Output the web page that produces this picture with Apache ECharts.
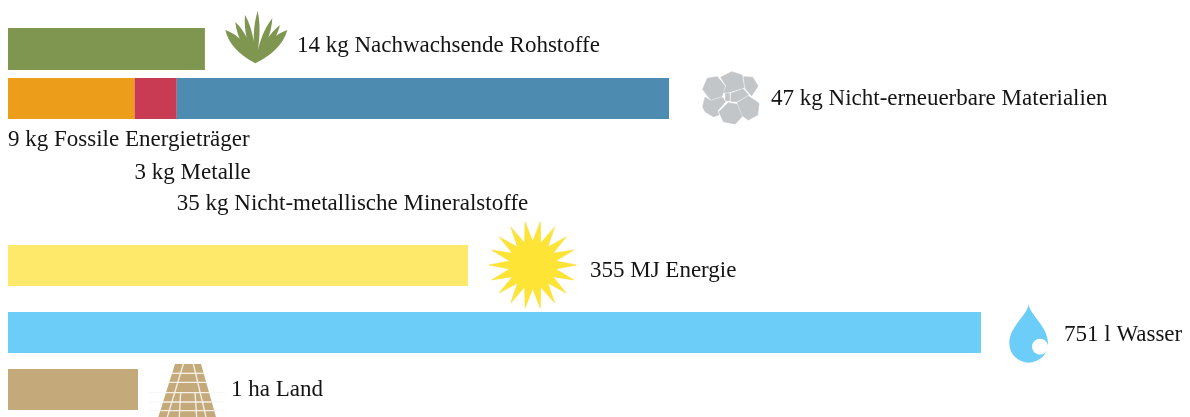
<!DOCTYPE html>
<html><head><meta charset="utf-8">
<style>html,body{margin:0;padding:0;background:#fff}#c{width:1190px;height:417px}</style>
<script src="https://cdn.jsdelivr.net/npm/echarts@6/dist/echarts.min.js"></script>
</head><body><div id="c"></div>
<script>
// Data
const renewableKg = 14;
const renewableLabel = '14 kg Nachwachsende Rohstoffe';
const materialNames = ['9 kg Fossile Energieträger', '3 kg Metalle', '35 kg Nicht-metallische Mineralstoffe'];
const materialKg = [9, 3, 35];
const materialTotalLabel = '47 kg Nicht-erneuerbare Materialien';
const energyMJ = 355;
const energyLabel = '355 MJ Energie';
const waterL = 751;
const waterLabel = '751 l Wasser';
const landHa = 1;
const landLabel = '1 ha Land';

// Style
const FONT = '"Liberation Serif", serif';
const FS = 23;
const TXT = '#141414';
const W = 1182;
const maxKg = W / 14.065, maxMJ = W / 1.2956, maxHa = W / 130;

const rows = [
  {top: 28,  h: 42, max: maxKg},
  {top: 78,  h: 41, max: maxKg},
  {top: 245, h: 41, max: maxMJ},
  {top: 312, h: 41, max: maxMJ},
  {top: 369, h: 41, max: maxHa}
];
const grid = rows.map(r => ({left: 8, width: W, top: r.top, height: r.h, containLabel: false}));
const xAxis = rows.map((r, i) => ({type: 'value', gridIndex: i, min: 0, max: r.max, show: false}));
const yAxis = rows.map((r, i) => ({type: 'category', gridIndex: i, data: ['x'], show: false}));

const bar = (i, val, color, extra) => Object.assign({
  type: 'bar', xAxisIndex: i, yAxisIndex: i, data: [val], barWidth: '100%',
  itemStyle: {color}, silent: true, animation: false
}, extra || {});
const endLabel = (text, dx, dy) => ({
  show: true, position: 'right', distance: 0, offset: [dx, dy], formatter: text,
  fontFamily: FONT, fontSize: FS, color: TXT
});
const subLabel = (text, y) => ({
  show: true, position: [0, y], distance: 0, formatter: text,
  fontFamily: FONT, fontSize: FS, color: TXT
});

const series = [
  bar(0, renewableKg, '#7f9650', {label: endLabel(renewableLabel, 92, -3)}),
  bar(1, materialKg[0], '#ec9e1b', {stack: 'm', label: subLabel(materialNames[0], 50)}),
  bar(1, materialKg[1], '#c83b52', {stack: 'm', label: subLabel(materialNames[1], 83)}),
  bar(1, materialKg[2], '#4d8bb0', {stack: 'm', label: subLabel(materialNames[2], 114)}),
  bar(1, 0, 'transparent', {stack: 'm', label: endLabel(materialTotalLabel, 102, 0)}),
  bar(2, energyMJ, '#fee96a', {label: endLabel(energyLabel, 122, 5)}),
  bar(3, waterL, '#6bcdf8', {label: endLabel(waterLabel, 83, 2)}),
  bar(4, landHa, '#c4a97b', {label: endLabel(landLabel, 93, 0)})
];

// Icons (decorative)
const leafBase = [166, 190];
const leaves = [[76,90,30],[106,66,21],[135,45,19],[173,33,17],[217,55,19],[240,75,19],[262,90,30]];
const agave = leaves.map(([tx, ty, w]) => {
  const [bx, by] = leafBase, dx = tx - bx, dy = ty - by, len = Math.hypot(dx, dy);
  const nx = -dy / len * w, ny = dx / len * w;
  const mx = bx + dx * 0.6, my = by + dy * 0.6;
  return `M${bx} ${by}Q${mx + nx} ${my + ny} ${tx} ${ty}Q${mx - nx} ${my - ny} ${bx} ${by}Z`;
}).join('');
const stones = [
  [[68,88],[82,55],[112,50],[135,78],[126,109],[92,119]],
  [[122,52],[155,35],[186,45],[192,83],[150,96],[131,98],[139,78]],
  [[191,50],[218,52],[234,78],[215,107],[196,86]],
  [[172,128],[205,108],[237,130],[233,165],[205,180],[188,168]],
  [[117,155],[145,128],[171,133],[186,170],[165,192],[130,185]],
  [[75,112],[92,122],[127,112],[136,125],[113,152],[116,165],[100,170],[75,155],[68,140]],
  [[136,101],[148,100],[150,122],[137,122]],
  [[153,100],[190,87],[205,105],[170,125],[153,124]]
];
const sunPts = [];
for (let k = 0; k < 36; k++) {
  const a = k * Math.PI / 18, r = k % 2 ? 23.5 : 43.7;
  sunPts.push([532.7 + r * Math.cos(a), 265 + r * Math.sin(a)]);
}
const drop = 'M116 28C120 60 174 95 174 145C174 178 148 203 116 203C84 203 58 178 58 145C58 95 112 60 116 28Z';
const fieldLines = [
  [[160,27],[112,186]], [[190,27],[228,186]],
  [[152,112],[148,186]], [[195,112],[200,186]]
];
const fieldRows = [55, 82, 113, 141, 167];
const edgeL = y => 135 - (y - 27) * 50 / 159, edgeR = y => 213 + (y - 27) * 45 / 159;

echarts.graphic.registerShape('agaveIcon', echarts.graphic.extendPath(agave, {}));
echarts.graphic.registerShape('dropIcon', echarts.graphic.extendPath(drop, {}));

const graphic = [
  {type: 'group', x: 200, y: 0, scaleX: 1/3, scaleY: 1/3, children: [
    {type: 'agaveIcon', style: {fill: '#7f9650'}}
  ]},
  {type: 'group', x: 680, y: 60, scaleX: 1/3, scaleY: 1/3, children:
    stones.map(p => ({type: 'polygon', shape: {points: p}, style: {fill: '#c3c6c8', stroke: '#c3c6c8', lineWidth: 2, lineJoin: 'round'}}))},
  {type: 'polygon', shape: {points: sunPts}, style: {fill: '#fde435', stroke: '#fbdc35', lineWidth: 0.6}},
  {type: 'group', x: 990, y: 295, scaleX: 1/3, scaleY: 1/3, children: [
    {type: 'dropIcon', style: {fill: '#6bcdf8'}},
    {type: 'circle', shape: {cx: 150, cy: 155, r: 24}, style: {fill: '#fff'}}
  ]},
  {type: 'group', x: 130, y: 355, scaleX: 1/3, scaleY: 1/3, children: [
    ...fieldRows.slice(2).map(y => ({type: 'line', shape: {x1: 55, y1: y, x2: 285, y2: y}, style: {stroke: '#f6f6f6', lineWidth: 3}})),
    {type: 'polygon', shape: {points: [[135,27],[213,27],[258,186],[85,186]]}, style: {fill: '#c4a97b'}},
    ...fieldRows.map(y => ({type: 'line', shape: {x1: edgeL(y), y1: y, x2: edgeR(y), y2: y}, style: {stroke: '#f5f0e6', lineWidth: 4}})),
    ...fieldLines.map(l => ({type: 'line', shape: {x1: l[0][0], y1: l[0][1], x2: l[1][0], y2: l[1][1]}, style: {stroke: '#f5f0e6', lineWidth: 4}}))
  ]}
];

const chart = echarts.init(document.getElementById('c'), null, {renderer: 'canvas'});
chart.setOption({backgroundColor: '#fff', animation: false, grid, xAxis, yAxis, series, graphic});
</script></body></html>
